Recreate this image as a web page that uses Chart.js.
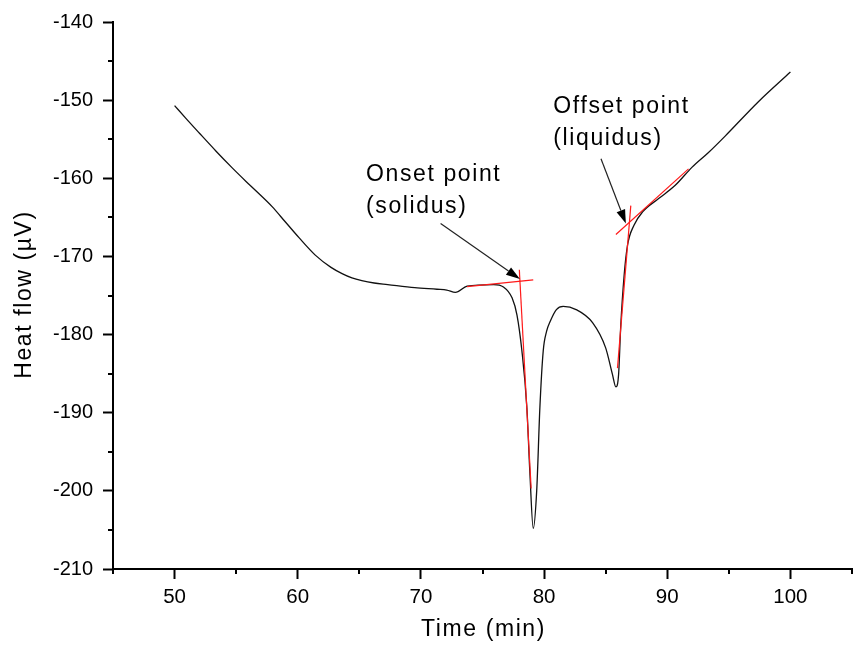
<!DOCTYPE html>
<html lang="en">
<head>
    <meta charset="UTF-8">
    <title>Heat flow vs time</title>
    <script src="https://cdn.jsdelivr.net/npm/chart.js"></script>
    <style>
        * { margin: 0; padding: 0; box-sizing: border-box; }
        body { background: #fff; width: 858px; height: 647px; overflow: hidden; }
        .wrap { position: relative; width: 858px; height: 647px; }
    </style>
</head>
<body>
    <div class="wrap"><canvas id="dsc"></canvas></div>

    <script>
        // heat flow trace
        const timeMin = [50.0, 50.9, 52.0, 53.35, 54.7, 55.8, 56.6, 57.9, 59.0, 60.1, 61.4, 62.7, 63.6, 64.4, 65.2, 66.2,
            67.3, 69.5, 71.3, 72.1, 72.8, 73.75, 75.9, 76.7, 77.4, 77.8, 78.2, 78.6, 78.85, 79.12, 79.4, 79.66, 79.93,
            80.2, 80.5, 81.0, 81.55, 82.6, 83.95, 85.0, 85.55, 85.83, 86.05, 86.23, 86.5, 86.77, 87.3, 88.0, 89.3,
            90.65, 92.0, 93.35, 94.7, 97.4, 100.0];
        const heatFlow = [-150.7, -152.3, -154.2, -156.5, -158.7, -160.4, -161.6, -163.6, -165.6, -167.6, -169.8, -171.4, -172.2, -172.75, -173.1, -173.4,
            -173.6, -174.0, -174.2, -174.3, -174.6, -173.8, -173.6, -173.9, -175.3, -177.5, -182.1, -189.3, -197.8, -204.8, -200.0, -189.3, -182.1,
            -179.6, -178.3, -176.8, -176.4, -176.8, -178.5, -181.7, -185.1, -186.7, -185.1, -178.7, -172.4, -168.6, -166.0, -164.3, -162.6,
            -160.9, -158.6, -156.7, -154.6, -150.2, -146.4];

        // tangent construction lines (red)
        const onsetBaseX = [73.75, 79.12];
        const onsetBaseY = [-173.86, -173.0];
        const onsetSlopeX = [77.99, 78.95];
        const onsetSlopeY = [-171.7, -199.7];
        const offsetSlopeX = [87.04, 85.96];
        const offsetSlopeY = [-163.5, -184.3];
        const offsetBaseX = [85.83, 91.73];
        const offsetBaseY = [-167.2, -158.8];

        // annotations: text anchor + arrow (from, to), in data units
        const onsetLabel = ["Onset point", "(solidus)"];
        const onsetTextAt = [65.55, -160.4];
        const onsetArrow = [71.6, -165.8, 78.04, -172.9];
        const offsetLabel = ["Offset point", "(liquidus)"];
        const offsetTextAt = [80.75, -151.6];
        const offsetArrow = [84.62, -157.5, 86.64, -165.8];

        const xTicks = [45, 50, 55, 60, 65, 70, 75, 80, 85, 90, 95, 100, 105];
        const yTicks = [-210, -205, -200, -195, -190, -185, -180, -175, -170, -165, -160, -155, -150, -145, -140];

        const xTitle = "Time (min)";
        const yTitle = "Heat flow (µV)";

        const FONT = '"Liberation Sans", Arial, sans-serif';

        function pts(xs, ys) {
            return xs.map((x, i) => ({ x: x, y: ys[i] }));
        }

        function redLine(xs, ys) {
            return {
                data: pts(xs, ys),
                borderColor: "#ff1a1a",
                borderWidth: 1.2,
                pointRadius: 0,
                tension: 0,
                order: 0
            };
        }

        const isMajor = v => v % 10 === 0;

        const extras = {
            id: "extras",
            afterDraw(chart) {
                const c = chart.ctx;
                const x = chart.scales.x, y = chart.scales.y;
                const area = chart.chartArea;

                // short minor ticks
                c.save();
                c.strokeStyle = "#000";
                c.lineWidth = 2;
                c.beginPath();
                xTicks.filter(v => !isMajor(v)).forEach(v => {
                    const px = Math.round(x.getPixelForValue(v));
                    c.moveTo(px, area.bottom);
                    c.lineTo(px, area.bottom + 5);
                });
                yTicks.filter(v => !isMajor(v)).forEach(v => {
                    const py = Math.round(y.getPixelForValue(v));
                    c.moveTo(area.left, py);
                    c.lineTo(area.left - 5, py);
                });
                c.stroke();

                // arrows
                function arrow(a) {
                    const x0 = x.getPixelForValue(a[0]), y0 = y.getPixelForValue(a[1]);
                    const x1 = x.getPixelForValue(a[2]), y1 = y.getPixelForValue(a[3]);
                    const ang = Math.atan2(y1 - y0, x1 - x0);
                    const len = 14, half = 4.5;
                    const bx = x1 - len * Math.cos(ang), by = y1 - len * Math.sin(ang);
                    c.strokeStyle = "#222";
                    c.lineWidth = 1.2;
                    c.beginPath();
                    c.moveTo(x0, y0);
                    c.lineTo(bx, by);
                    c.stroke();
                    c.fillStyle = "#000";
                    c.beginPath();
                    c.moveTo(x1, y1);
                    c.lineTo(bx + half * Math.sin(ang), by - half * Math.cos(ang));
                    c.lineTo(bx - half * Math.sin(ang), by + half * Math.cos(ang));
                    c.closePath();
                    c.fill();
                }
                arrow(onsetArrow);
                arrow(offsetArrow);

                // annotation text
                c.fillStyle = "#000";
                c.font = "23px " + FONT;
                c.letterSpacing = "1.6px";
                c.textBaseline = "alphabetic";
                c.textAlign = "left";
                function label(lines, at) {
                    const px = x.getPixelForValue(at[0]), py = y.getPixelForValue(at[1]);
                    lines.forEach((t, i) => c.fillText(t, px, py + i * 32));
                }
                label(onsetLabel, onsetTextAt);
                label(offsetLabel, offsetTextAt);

                // axis titles
                c.textAlign = "center";
                c.fillText(xTitle, (area.left + area.right) / 2 + 1, 636);
                c.translate(31, (area.top + area.bottom) / 2);
                c.rotate(-Math.PI / 2);
                c.fillText(yTitle, 1, 0);
                c.restore();
            }
        };

        new Chart(document.getElementById("dsc"), {
            type: "line",
            data: {
                datasets: [
                    {
                        data: pts(timeMin, heatFlow),
                        borderColor: "#111",
                        borderWidth: 1.3,
                        pointRadius: 0,
                        cubicInterpolationMode: "monotone",
                        order: 1
                    },
                    redLine(onsetBaseX, onsetBaseY),
                    redLine(onsetSlopeX, onsetSlopeY),
                    redLine(offsetSlopeX, offsetSlopeY),
                    redLine(offsetBaseX, offsetBaseY)
                ]
            },
            options: {
                responsive: true,
                maintainAspectRatio: false,
                animation: false,
                events: [],
                layout: { padding: { top: 19, left: 0, right: 0, bottom: 0 } },
                plugins: { legend: { display: false }, tooltip: { enabled: false } },
                scales: {
                    x: {
                        type: "linear",
                        min: 45,
                        max: 105,
                        afterBuildTicks: s => { s.ticks = xTicks.map(v => ({ value: v })); },
                        afterFit: s => { s.height = 78; },
                        border: { color: "#000", width: 2 },
                        grid: {
                            drawOnChartArea: false,
                            tickLength: 10,
                            tickWidth: 2,
                            tickColor: ctx => (ctx.tick && isMajor(ctx.tick.value)) ? "#000" : "rgba(0,0,0,0)"
                        },
                        ticks: {
                            autoSkip: false,
                            maxRotation: 0,
                            padding: 6,
                            color: "#000",
                            font: { family: FONT, size: 20.5 },
                            callback: v => isMajor(v) ? String(v) : ""
                        }
                    },
                    y: {
                        type: "linear",
                        min: -210,
                        max: -140,
                        afterBuildTicks: s => { s.ticks = yTicks.map(v => ({ value: v })); },
                        afterFit: s => { s.width = 113; },
                        border: { color: "#000", width: 2 },
                        grid: {
                            drawOnChartArea: false,
                            tickLength: 10,
                            tickWidth: 2,
                            tickColor: ctx => (ctx.tick && isMajor(ctx.tick.value)) ? "#000" : "rgba(0,0,0,0)"
                        },
                        ticks: {
                            autoSkip: false,
                            padding: 10,
                            color: "#000",
                            font: { family: FONT, size: 20 },
                            callback: v => isMajor(v) ? String(v) : ""
                        }
                    }
                }
            },
            plugins: [extras]
        });
    </script>
</body>
</html>
